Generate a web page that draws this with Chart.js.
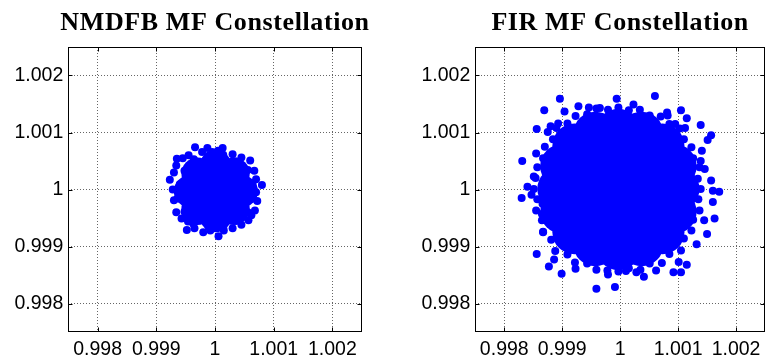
<!DOCTYPE html>
<html>
<head>
<meta charset="utf-8">
<script src="https://cdn.jsdelivr.net/npm/chart.js@4.4.0/dist/chart.umd.min.js"></script>
<style>
  html, body { margin: 0; padding: 0; background: #fff; overflow: hidden; width: 765px; height: 362px; }
  canvas { position: absolute; top: 0; }
  #nmdfb { left: 0; }
  #fir { left: 407px; }
</style>
</head>
<body>
<canvas id="nmdfb" width="380" height="362"></canvas>
<canvas id="fir" width="380" height="362"></canvas>
<script>
// axis ticks (same on both plots, both axes)
const tickValues = [0.998, 0.999, 1, 1.001, 1.002];
const tickLabels = ["0.998", "0.999", "1", "1.001", "1.002"];
const axisMin = 0.9975;
const axisMax = 1.0025;

const titles = ["NMDFB MF Constellation", "FIR MF Constellation"];

// NMDFB: dense middle of the cloud, then the samples round its edge
const nmdfbCore = [
  [1.00001, 0.99997], [1.00046, 0.99997], [1.00032, 1.00028], [1.00001, 1.00041],
  [0.99970, 1.00028], [0.99957, 0.99997], [0.99970, 0.99966], [1.00001, 0.99953],
  [1.00032, 0.99966]
];
const nmdfbPoints = [
  [0.99966, 1.00074], [0.99987, 1.00073], [1.00013, 1.00073], [1.00030, 1.00062],
  [1.00045, 1.00056], [1.00060, 1.00051], [0.99995, 1.00066], [1.00005, 1.00068],
  [0.99978, 1.00066], [0.99955, 1.00060], [0.99945, 1.00055], [0.99935, 1.00054],
  [1.00067, 1.00033], [1.00070, 1.00018], [1.00080, 1.00008], [1.00070, 0.99995],
  [1.00072, 0.99980], [1.00068, 0.99963], [1.00062, 0.99955], [1.00057, 0.99946],
  [1.00045, 0.99938], [1.00030, 0.99932], [1.00015, 0.99928], [1.00006, 0.99918],
  [0.99992, 0.99928], [0.99980, 0.99925], [0.99965, 0.99932], [0.99952, 0.99929],
  [0.99954, 0.99944], [0.99943, 0.99949], [0.99934, 0.99960], [0.99930, 0.99981],
  [0.99928, 1.00000], [0.99923, 1.00017], [0.99930, 1.00030], [0.99934, 1.00042],
  [1.00064, 1.00010], [1.00056, 1.00034], [1.00036, 1.00049], [1.00014, 1.00061],
  [0.99989, 1.00059], [0.99964, 1.00053], [0.99948, 1.00033], [0.99940, 1.00009],
  [0.99936, 0.99984], [0.99948, 0.99961], [0.99963, 0.99940], [0.99989, 0.99935],
  [1.00014, 0.99933], [1.00036, 0.99945], [1.00056, 0.99960], [1.00064, 0.99984]
];

// FIR: same idea, wider spread
const firCore = [
  [0.99997, 1.00001],
  [1.00059, 1.00001], [1.00041, 1.00045], [0.99997, 1.00063], [0.99953, 1.00045],
  [0.99935, 1.00001], [0.99953, 0.99957], [0.99997, 0.99939], [1.00041, 0.99957],
  [1.00099, 1.00001], [1.00094, 1.00041], [1.00073, 1.00077], [1.00037, 1.00098],
  [0.99997, 1.00103], [0.99957, 1.00098], [0.99921, 1.00077], [0.99900, 1.00041],
  [0.99895, 1.00001], [0.99900, 0.99961], [0.99921, 0.99925], [0.99957, 0.99904],
  [0.99997, 0.99897], [1.00037, 0.99904], [1.00073, 0.99925], [1.00094, 0.99961]
];
const firPoints = [
  // edge of the cloud
  [1.00139, 1.00001], [1.00134, 1.00019], [1.00137, 1.00039], [1.00126, 1.00055],
  [1.00123, 1.00074], [1.00110, 1.00088], [1.00103, 1.00107], [1.00085, 1.00115],
  [1.00070, 1.00128], [1.00051, 1.00130], [1.00034, 1.00140], [1.00015, 1.00139],
  [0.99997, 1.00144], [0.99979, 1.00140], [0.99959, 1.00142], [0.99943, 1.00132],
  [0.99923, 1.00129], [0.99909, 1.00116], [0.99890, 1.00108], [0.99884, 1.00088],
  [0.99870, 1.00075], [0.99867, 1.00055], [0.99857, 1.00039], [0.99854, 1.00020],
  [0.99851, 1.00001], [0.99857, 0.99983], [0.99855, 0.99963], [0.99865, 0.99946],
  [0.99867, 0.99926], [0.99881, 0.99912], [0.99888, 0.99892], [0.99909, 0.99886],
  [0.99922, 0.99872], [0.99943, 0.99870], [0.99959, 0.99859], [0.99978, 0.99858],
  [0.99997, 0.99856], [1.00015, 0.99862], [1.00035, 0.99859], [1.00051, 0.99870],
  [1.00072, 0.99871], [1.00085, 0.99887], [1.00105, 0.99893], [1.00110, 0.99914],
  [1.00123, 0.99928], [1.00126, 0.99947], [1.00137, 0.99963], [1.00135, 0.99983],
  // outliers
  [0.99896, 1.00159], [1.00060, 1.00164], [0.99994, 1.00159], [0.99869, 1.00139],
  [0.99928, 1.00146], [0.99904, 1.00137], [0.99946, 1.00144], [1.00023, 1.00149],
  [1.00081, 1.00135], [1.00105, 1.00139], [1.00115, 1.00125], [1.00139, 1.00113],
  [1.00157, 1.00095], [1.00151, 1.00087], [0.99856, 1.00106], [0.99875, 1.00101],
  [0.99880, 1.00111], [0.99893, 1.00116], [0.99831, 1.00050], [0.99855, 1.00063],
  [0.99851, 1.00023], [0.99840, 1.00005], [0.99830, 0.99985], [0.99847, 0.99991],
  [1.00141, 1.00068], [1.00139, 1.00050], [1.00146, 1.00036], [1.00157, 1.00016],
  [1.00171, 0.99996], [1.00160, 0.99998], [1.00160, 0.99978], [1.00163, 0.99949],
  [1.00150, 0.99922], [1.00145, 0.99946], [1.00132, 0.99904], [0.99856, 0.99887],
  [0.99886, 0.99877], [0.99877, 0.99865], [0.99899, 0.99852], [0.99923, 0.99861],
  [0.99959, 0.99826], [0.99991, 0.99829], [1.00041, 0.99847], [1.00062, 0.99858],
  [1.00092, 0.99855], [1.00105, 0.99855], [1.00115, 0.99868], [1.00101, 0.99873],
  [0.99979, 0.99851], [1.00010, 0.99857], [1.00028, 0.99855], [0.99867, 0.99925],
  [0.99865, 0.99957], [0.99866, 0.99975], [1.00112, 1.00108], [1.00095, 1.00115],
  [0.99965, 1.00143], [1.00082, 1.00130]
];

const toXY = arr => arr.map(p => ({ x: p[0], y: p[1] }));

// matlab style box: title, frame on all four sides, short inward ticks
const boxPlugin = {
  id: "box",
  afterDraw(chart, args, opts) {
    const { ctx, chartArea: a, scales } = chart;
    const L = Math.round(a.left) + 0.5, R = Math.round(a.right) - 0.5;
    const T = Math.round(a.top) + 0.5, B = Math.round(a.bottom) - 0.5;
    ctx.save();
    ctx.strokeStyle = "#000";
    ctx.lineWidth = 1;
    ctx.beginPath();
    tickValues.forEach(v => {
      const x = Math.round(scales.x.getPixelForValue(v)) + 0.5;
      const y = Math.round(scales.y.getPixelForValue(v)) + 0.5;
      ctx.moveTo(x, B); ctx.lineTo(x, B - 4);
      ctx.moveTo(x, T); ctx.lineTo(x, T + 4);
      ctx.moveTo(L, y); ctx.lineTo(L + 4, y);
      ctx.moveTo(R, y); ctx.lineTo(R - 4, y);
    });
    ctx.stroke();
    ctx.strokeRect(L, T, R - L, B - T);

    ctx.fillStyle = "#000";
    ctx.font = "bold 26px 'Liberation Serif', 'Times New Roman', serif";
    ctx.letterSpacing = "0.6px";
    ctx.textAlign = "center";
    ctx.textBaseline = "alphabetic";
    ctx.fillText(opts.title, (a.left + a.right) / 2, 29.5);
    ctx.restore();
  }
};

const tickFont = { family: "'Liberation Sans', Arial, sans-serif", size: 19.5 };

function axis(isX) {
  return {
    type: "linear",
    min: axisMin,
    max: axisMax,
    afterBuildTicks: s => { s.ticks = tickValues.map(v => ({ value: v })); },
    afterFit: s => { if (isX) s.height = 30; else s.width = 68.3; },
    ticks: {
      callback: (v, i) => tickLabels[i],
      color: "#000",
      font: tickFont,
      padding: isX ? 6 : 5,
      maxRotation: 0,
      autoSkip: false
    },
    grid: { color: "rgba(0,0,0,0.6)", lineWidth: 1, drawTicks: false },
    border: { display: false, dash: [1, 2] }
  };
}

function makeChart(id, title, core, points, coreRadius) {
  new Chart(document.getElementById(id), {
    type: "scatter",
    data: {
      datasets: [
        { data: toXY(core), pointRadius: coreRadius, backgroundColor: "#0000ff", borderWidth: 0 },
        { data: toXY(points), pointRadius: 4, backgroundColor: "#0000ff", borderWidth: 0 }
      ]
    },
    options: {
      responsive: false,
      animation: false,
      events: [],
      layout: { padding: { left: 0, right: 18.3, top: 47, bottom: 0 } },
      plugins: {
        legend: { display: false },
        tooltip: { enabled: false },
        title: { display: false },
        box: { title }
      },
      scales: { x: axis(true), y: axis(false) }
    },
    plugins: [boxPlugin]
  });
}

makeChart("nmdfb", titles[0], nmdfbCore, nmdfbPoints, 16);
makeChart("fir", titles[1], firCore, firPoints, 22);
</script>
</body>
</html>
